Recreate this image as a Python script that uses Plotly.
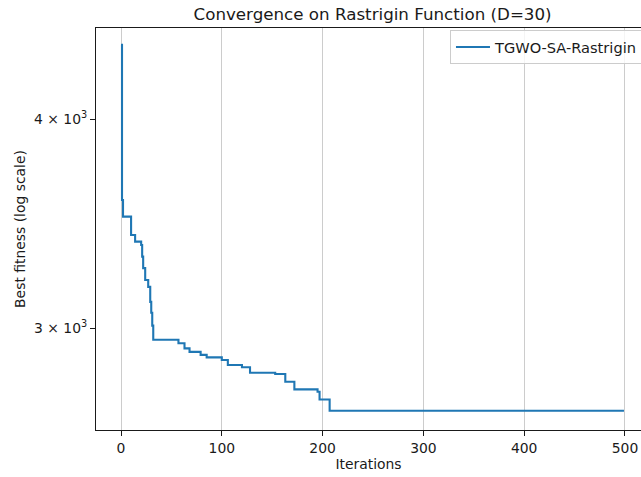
import plotly.graph_objects as go

# Iterations at which the best fitness changes (step curve), and the values
iterations = [0, 1, 2, 10, 14, 20, 21, 22, 24, 27, 29, 30, 31, 32, 57, 63, 68, 79, 85,
              100, 106, 120, 128, 153, 163, 172, 195, 197, 207, 499]
best_fitness = [4430, 3578, 3497, 3410, 3379, 3363, 3310, 3258, 3205, 3175, 3110, 3064, 3010, 2952,
                2938, 2917, 2903, 2891, 2881, 2871, 2851, 2842, 2821, 2816, 2786, 2757,
                2748, 2719, 2677, 2677]

x_ticks = [0, 100, 200, 300, 400, 500]
y_ticks = [3000, 4000]
y_tick_text = ["3 \u00d7 10<sup>3</sup>", "4 \u00d7 10<sup>3</sup>"]

series_name = "TGWO-SA-Rastrigin"
title_text = "Convergence on Rastrigin Function (D=30)"

FONT = "DejaVu Sans, Liberation Sans, sans-serif"
INK = "#1a1a1a"

fig = go.Figure()
fig.add_trace(go.Scatter(
    x=iterations, y=best_fitness, mode="lines", name=series_name,
    line=dict(color="#1f77b4", width=2.1, shape="hv"),
))

fig.update_layout(
    width=641, height=477,
    margin=dict(l=96, r=0, t=28, b=47, autoexpand=False),
    paper_bgcolor="white", plot_bgcolor="white",
    font=dict(family=FONT, size=13.9, color=INK),
    title=dict(text=title_text, font=dict(size=16.7, color=INK),
               x=0.5075, xref="paper", xanchor="center",
               y=1 - 14 / 477, yref="container", yanchor="middle"),
    showlegend=True,
    legend=dict(x=0.6495, y=0.995, xanchor="left", yanchor="top",
                itemwidth=34,
                bgcolor="rgba(255,255,255,0.8)", bordercolor="#cccccc", borderwidth=1,
                font=dict(size=14.6, color=INK)),
)

fig.update_xaxes(
    range=[-24.8, 515.9], tickvals=x_ticks, ticks="outside", ticklen=5, tickwidth=1,
    tickcolor=INK, showline=True, linecolor=INK, linewidth=1.1, mirror=True,
    showgrid=True, gridcolor="#cccccc", gridwidth=1, zeroline=False,
    title=dict(text="Iterations", standoff=4, font=dict(size=13.9, color=INK)),
)
fig.update_yaxes(
    type="log", range=[3.41615, 3.6565], tickvals=y_ticks, ticktext=y_tick_text,
    ticks="outside", ticklen=5, tickwidth=1, tickcolor=INK,
    showline=True, linecolor=INK, linewidth=1.1, mirror=False,
    showgrid=False, zeroline=False,
    title=dict(text="Best fitness (log scale)", standoff=5, font=dict(size=13.9, color=INK)),
)

fig.write_html("out.html")
